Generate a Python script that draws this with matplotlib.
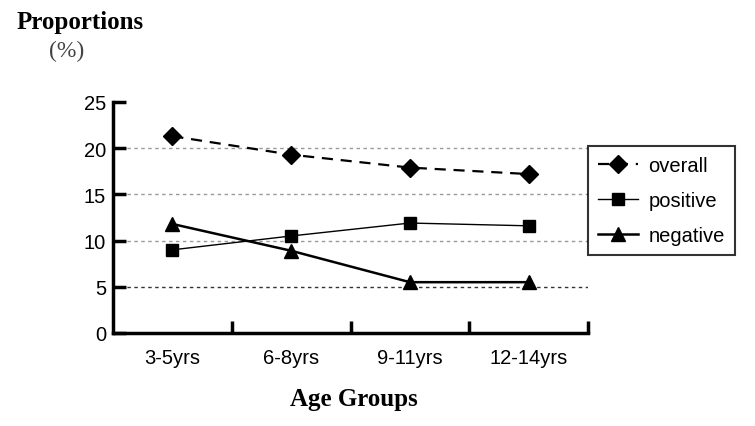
import numpy as np
import matplotlib
matplotlib.use("Agg")
import matplotlib.pyplot as plt

# data
age_groups = ["3-5yrs", "6-8yrs", "9-11yrs", "12-14yrs"]
overall = [21.3, 19.3, 17.9, 17.2]
positive = [9.0, 10.5, 11.9, 11.6]
negative = [11.8, 8.9, 5.5, 5.5]
y_ticks = [0, 5, 10, 15, 20, 25]

sans = ["Liberation Sans", "DejaVu Sans"]
serif = ["Liberation Serif", "DejaVu Serif"]

fig = plt.figure(figsize=(7.55, 4.27), dpi=100)
ax = fig.add_axes([113 / 755, 1 - 334 / 427, (588 - 113) / 755, (334 - 103) / 427])

x = np.arange(len(age_groups)) + 0.5

# horizontal guide lines
for v in y_ticks[1:5]:
    col = "#333333" if v == 5 else "#999999"
    ax.axhline(v, color=col, lw=1, ls=(0, (2.5, 2.5)), zorder=1)

ax.plot(x, overall, color="black", lw=1.6, ls=(0, (5, 3.5)), marker="D",
        markersize=9, label="overall", zorder=3)
ax.plot(x, positive, color="black", lw=1.0, marker="s",
        markersize=8, label="positive", zorder=3)
ax.plot(x, negative, color="black", lw=1.8, marker="^",
        markersize=9.5, label="negative", zorder=3)

ax.set_xlim(0, 4)
ax.set_ylim(0, 25)

# spines
ax.spines["top"].set_visible(False)
ax.spines["right"].set_visible(False)
ax.spines["left"].set_linewidth(2.5)
ax.spines["bottom"].set_linewidth(2.5)

ax.set_yticks(y_ticks)
ax.set_yticklabels([str(v) for v in y_ticks], family=sans, fontsize=14.5)
ax.tick_params(axis="y", direction="in", length=9, width=2.5, pad=5)

# category boundaries as ticks, labels at the centres
ax.set_xticks([1, 2, 3, 4])
ax.set_xticklabels([])
ax.set_xticks(x, minor=True)
ax.set_xticklabels(age_groups, minor=True, family=sans, fontsize=14.5)
ax.tick_params(axis="x", which="major", direction="in", length=9, width=2.5)
ax.tick_params(axis="x", which="minor", length=0, pad=11)

leg = ax.legend(loc="upper left", bbox_to_anchor=(588 / 755, 1 - 147 / 427),
                bbox_transform=fig.transFigure, borderaxespad=0,
                fancybox=False, frameon=True, prop={"family": sans, "size": 14.5},
                handlelength=2.0, labelspacing=0.8, borderpad=0.5,
                handletextpad=0.5)
leg.get_frame().set_edgecolor("black")
leg.get_frame().set_linewidth(1.5)

fig.text(17 / 755, 1 - 22 / 427, "Proportions", family=serif, fontsize=18,
         fontweight="bold", va="center", ha="left")
fig.text(67 / 755, 1 - 51 / 427, "(%)", family=serif, fontsize=17,
         color="#444444", va="center", ha="center")
fig.text(354 / 755, 1 - 400 / 427, "Age Groups", family=serif, fontsize=18,
         fontweight="bold", va="center", ha="center")

fig.savefig("out.png", dpi=100)
